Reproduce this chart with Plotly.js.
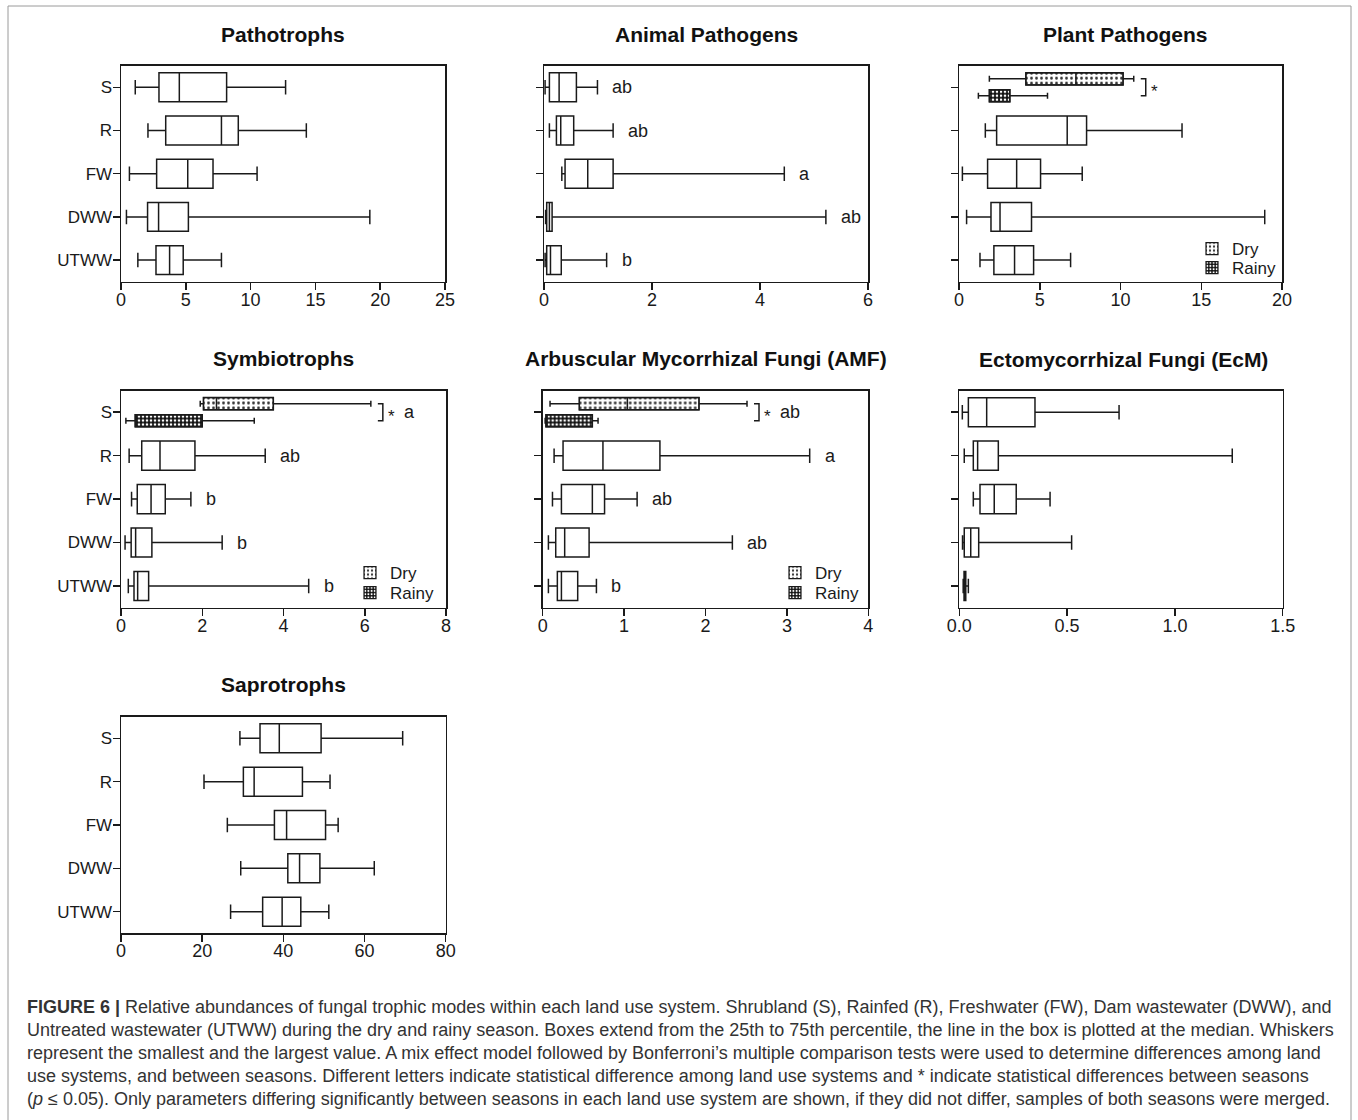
<!DOCTYPE html>
<html><head><meta charset="utf-8">
<script src="https://cdn.plot.ly/plotly-3.0.1.min.js"></script>
<style>html,body{margin:0;padding:0;background:#fff}#chart{width:1358px;height:1120px}</style>
</head><body><div id="chart"></div>
<script>
// ---------- DATA ----------
const categories = ['S', 'R', 'FW', 'DWW', 'UTWW'];
const seasons = ['Dry', 'Rainy'];

// Pathotrophs
const pathoLow  = [1.1, 2.08, 0.65, 0.42, 1.3];
const pathoQ1   = [2.93, 3.45, 2.75, 2.05, 2.7];
const pathoMed  = [4.5, 7.75, 5.15, 2.9, 3.75];
const pathoQ3   = [8.15, 9.05, 7.1, 5.2, 4.8];
const pathoHigh = [12.7, 14.3, 10.5, 19.2, 7.75];

// Animal Pathogens
const animalLow  = [0.02, 0.1, 0.33, 0.03, 0.02];
const animalQ1   = [0.1, 0.23, 0.39, 0.05, 0.05];
const animalMed  = [0.28, 0.31, 0.81, 0.1, 0.12];
const animalQ3   = [0.6, 0.55, 1.28, 0.15, 0.32];
const animalHigh = [0.99, 1.28, 4.45, 5.22, 1.16];
const animalLetters = ['ab', 'ab', 'a', 'ab', 'b'];

// Plant Pathogens (S split by season: [Dry, Rainy])
const plantLow  = [null, 1.63, 0.21, 0.47, 1.3];
const plantQ1   = [null, 2.33, 1.77, 1.98, 2.16];
const plantMed  = [null, 6.7, 3.57, 2.54, 3.44];
const plantQ3   = [null, 7.9, 5.05, 4.49, 4.62];
const plantHigh = [null, 13.81, 7.63, 18.93, 6.91];
const plantSeasonLow  = [1.88, 1.2];
const plantSeasonQ1   = [4.14, 1.88];
const plantSeasonMed  = [7.24, 2.49];
const plantSeasonQ3   = [10.16, 3.15];
const plantSeasonHigh = [10.82, 5.48];

// Symbiotrophs
const symLow  = [null, 0.2, 0.26, 0.1, 0.18];
const symQ1   = [null, 0.51, 0.4, 0.25, 0.32];
const symMed  = [null, 0.96, 0.74, 0.36, 0.41];
const symQ3   = [null, 1.82, 1.09, 0.76, 0.68];
const symHigh = [null, 3.55, 1.72, 2.49, 4.62];
const symSeasonLow  = [1.95, 0.12];
const symSeasonQ1   = [2.03, 0.35];
const symSeasonMed  = [2.35, 0.35];
const symSeasonQ3   = [3.75, 2.0];
const symSeasonHigh = [6.15, 3.28];
const symLetters = ['a', 'ab', 'b', 'b', 'b'];

// Arbuscular Mycorrhizal Fungi
const amfLow  = [null, 0.14, 0.12, 0.07, 0.07];
const amfQ1   = [null, 0.25, 0.23, 0.16, 0.18];
const amfMed  = [null, 0.74, 0.61, 0.27, 0.23];
const amfQ3   = [null, 1.44, 0.76, 0.57, 0.43];
const amfHigh = [null, 3.28, 1.16, 2.33, 0.66];
const amfSeasonLow  = [0.09, 0.03];
const amfSeasonQ1   = [0.45, 0.04];
const amfSeasonMed  = [1.04, 0.04];
const amfSeasonQ3   = [1.92, 0.61];
const amfSeasonHigh = [2.51, 0.68];
const amfLetters = ['ab', 'a', 'ab', 'ab', 'b'];

// Ectomycorrhizal Fungi
const ecmLow  = [0.014, 0.023, 0.065, 0.015, 0.018];
const ecmQ1   = [0.042, 0.065, 0.096, 0.023, 0.022];
const ecmMed  = [0.127, 0.085, 0.162, 0.053, 0.026];
const ecmQ3   = [0.351, 0.181, 0.264, 0.09, 0.03];
const ecmHigh = [0.741, 1.266, 0.421, 0.521, 0.042];

// Saprotrophs
const saproLow  = [29.3, 20.45, 26.2, 29.5, 27.0];
const saproQ1   = [34.25, 30.15, 37.8, 41.1, 34.9];
const saproMed  = [39.0, 32.8, 40.8, 44.0, 39.7];
const saproQ3   = [49.3, 44.7, 50.4, 49.0, 44.3];
const saproHigh = [69.4, 51.5, 53.5, 62.4, 51.2];

const captionLines = [
  '<b>FIGURE 6 |</b> Relative abundances of fungal trophic modes within each land use system. Shrubland (S), Rainfed (R), Freshwater (FW), Dam wastewater (DWW), and',
  'Untreated wastewater (UTWW) during the dry and rainy season. Boxes extend from the 25th to 75th percentile, the line in the box is plotted at the median. Whiskers',
  'represent the smallest and the largest value. A mix effect model followed by Bonferroni\u2019s multiple comparison tests were used to determine differences among land',
  'use systems, and between seasons. Different letters indicate statistical difference among land use systems and * indicate statistical differences between seasons',
  '(<i>p</i> \u2264 0.05). Only parameters differing significantly between seasons in each land use system are shown, if they did not differ, samples of both seasons were merged.'
];

// ---------- LAYOUT / STYLE ----------
const W = 1358, H = 1120;
const FONT = '"Liberation Sans", Arial, Helvetica, sans-serif';
const INK = '#1a1a1a';
const px2x = p => p / W;
const px2y = p => 1 - p / H;
const BOX_W = 0.67, SEASON_W = 0.28, SEASON_OFF = 0.196;

const panels = [
  {title: 'Pathotrophs', xmax: 25, dtick: 5, x: [121, 445], y: [65.7, 281.7], ty: 34, labels: true,
   stats: [pathoLow, pathoQ1, pathoMed, pathoQ3, pathoHigh]},
  {title: 'Animal Pathogens', xmax: 6, dtick: 2, x: [544, 868], y: [65.7, 281.7], ty: 34, labels: false,
   stats: [animalLow, animalQ1, animalMed, animalQ3, animalHigh], letters: animalLetters},
  {title: 'Plant Pathogens', xmax: 20, dtick: 5, x: [959, 1282], y: [65.7, 281.7], ty: 34, tx: 1125, labels: false,
   stats: [plantLow, plantQ1, plantMed, plantQ3, plantHigh],
   season: [plantSeasonLow, plantSeasonQ1, plantSeasonMed, plantSeasonQ3, plantSeasonHigh],
   legendIds: ['legend', 'legend2'], legendX: 1192, legendTops: [231, 250]},
  {title: 'Symbiotrophs', xmax: 8, dtick: 2, x: [121, 446], y: [390.5, 607.7], ty: 358, labels: true,
   stats: [symLow, symQ1, symMed, symQ3, symHigh], letters: symLetters,
   season: [symSeasonLow, symSeasonQ1, symSeasonMed, symSeasonQ3, symSeasonHigh],
   legendIds: ['legend3', 'legend4'], legendX: 350, legendTops: [555, 575]},
  {title: 'Arbuscular Mycorrhizal Fungi (AMF)', xmax: 4, dtick: 1, x: [542.7, 868.3], y: [390.5, 607.7], ty: 358, labels: false,
   stats: [amfLow, amfQ1, amfMed, amfQ3, amfHigh], letters: amfLetters,
   season: [amfSeasonLow, amfSeasonQ1, amfSeasonMed, amfSeasonQ3, amfSeasonHigh],
   legendIds: ['legend5', 'legend6'], legendX: 775, legendTops: [555, 575]},
  {title: 'Ectomycorrhizal Fungi (EcM)', xmax: 1.5, dtick: 0.5, fmt: '.1f', x: [959.3, 1282.7], y: [390.5, 607.7], ty: 360, tx: 1123, labels: false,
   stats: [ecmLow, ecmQ1, ecmMed, ecmQ3, ecmHigh]},
  {title: 'Saprotrophs', xmax: 80, dtick: 20, x: [121, 445.7], y: [716.7, 933.3], ty: 684, labels: true,
   stats: [saproLow, saproQ1, saproMed, saproQ3, saproHigh]}
];

const seasonPatterns = {
  Dry:   {shape: '.', fgcolor: '#333', bgcolor: 'white', size: 5, solidity: 0.25},
  Rainy: {shape: '.', fgcolor: 'white', bgcolor: '#111', size: 4, solidity: 0.35}
};

const traces = [], annotations = [], shapes = [];
const layout = {
  width: W, height: H, margin: {l: 0, r: 0, t: 0, b: 0},
  paper_bgcolor: 'white', plot_bgcolor: 'white',
  showlegend: true, barmode: 'overlay', boxmode: 'overlay',
  font: {family: FONT, color: INK}
};

function boxTrace(xa, ya, pos, s, width) {
  return {
    type: 'box', orientation: 'h', xaxis: xa, yaxis: ya, y: pos,
    lowerfence: s[0], q1: s[1], median: s[2], q3: s[3], upperfence: s[4],
    width: width, whiskerwidth: 0.5, boxpoints: false,
    fillcolor: 'rgba(0,0,0,0)', line: {color: INK, width: 1.5},
    showlegend: false, hoverinfo: 'skip'
  };
}

panels.forEach((p, k) => {
  const n = k + 1, sfx = n === 1 ? '' : String(n);
  const xa = 'x' + sfx, ya = 'y' + sfx;
  const pxPerUnit = (p.x[1] - p.x[0]) / p.xmax;
  const axisCommon = {
    ticks: 'outside', ticklen: 7, tickwidth: 1.5, tickcolor: INK,
    showline: true, linewidth: 1.5, linecolor: INK, mirror: true,
    showgrid: false, zeroline: false, fixedrange: true
  };
  layout['xaxis' + sfx] = Object.assign({}, axisCommon, {
    domain: [px2x(p.x[0]), px2x(p.x[1])], anchor: ya,
    range: [0, p.xmax], tickmode: 'linear', tick0: 0, dtick: p.dtick, tickformat: p.fmt || '',
    tickfont: {size: 18, family: FONT, color: INK}, ticklabelstandoff: -6
  });
  layout['yaxis' + sfx] = Object.assign({}, axisCommon, {
    domain: [px2y(p.y[1]), px2y(p.y[0])], anchor: xa,
    range: [categories.length - 0.5, -0.5], tickmode: 'array',
    tickvals: categories.map((c, i) => i), ticktext: categories,
    showticklabels: p.labels, tickfont: {size: 17, family: FONT, color: INK}, ticklabelstandoff: -3
  });

  // seasonal boxes (pattern fill via bars underneath box outline)
  if (p.season) {
    const si = categories.indexOf('S');
    seasons.forEach((sname, j) => {
      const pos = si + (j === 0 ? -SEASON_OFF : SEASON_OFF);
      const s = p.season.map(a => [a[j]]);
      traces.push({
        type: 'bar', orientation: 'h', xaxis: xa, yaxis: ya,
        y: [pos], base: s[1], x: [s[3][0] - s[1][0]], width: SEASON_W,
        name: sname, legend: p.legendIds[j], showlegend: true, hoverinfo: 'skip',
        marker: {color: 'white', line: {color: INK, width: 1.2}, pattern: seasonPatterns[sname]}
      });
      traces.push(boxTrace(xa, ya, [pos], s, SEASON_W));
      layout[p.legendIds[j]] = {
        x: px2x(p.legendX), y: px2y(p.legendTops[j]), xanchor: 'left', yanchor: 'top',
        bgcolor: 'rgba(0,0,0,0)', borderwidth: 0, itemwidth: 30,
        font: {size: 17, family: FONT, color: INK}
      };
    });
    // bracket + asterisk
    const hi = Math.max(p.season[4][0], p.season[4][1]);
    const bx = hi + 12 / pxPerUnit, arm = 5 / pxPerUnit;
    const y0 = si - SEASON_OFF, y1 = si + SEASON_OFF;
    shapes.push({type: 'path', xref: xa, yref: ya,
      path: `M ${bx - arm},${y0} L ${bx},${y0} L ${bx},${y1} L ${bx - arm},${y1}`,
      line: {color: INK, width: 1.5}});
    annotations.push({xref: xa, yref: ya, x: bx, y: si, xanchor: 'left', yanchor: 'middle',
      xshift: 3, yshift: -4, text: '*', showarrow: false, font: {size: 17, family: FONT, color: INK}});
    if (p.letters) {
      annotations.push({xref: xa, yref: ya, x: bx, y: si, xanchor: 'left', yanchor: 'middle',
        xshift: 19, text: p.letters[si], showarrow: false, font: {size: 18, family: FONT, color: INK}});
    }
  }

  // main boxes
  const idx = categories.map((c, i) => i).filter(i => p.stats[0][i] !== null);
  traces.push(boxTrace(xa, ya, idx, p.stats.map(a => idx.map(i => a[i])), BOX_W));

  // letters
  if (p.letters) {
    idx.forEach(i => {
      annotations.push({xref: xa, yref: ya, x: p.stats[4][i], y: i, xanchor: 'left', yanchor: 'middle',
        xshift: 13, text: p.letters[i], showarrow: false, font: {size: 18, family: FONT, color: INK}});
    });
  }

  // title
  annotations.push({xref: 'paper', yref: 'paper', x: px2x(p.tx || (p.x[0] + p.x[1]) / 2), y: px2y(p.ty),
    xanchor: 'center', yanchor: 'middle', showarrow: false,
    text: '<b>' + p.title + '</b>', font: {size: 21, family: FONT, color: '#111'}});
});

// caption
captionLines.forEach((t, i) => {
  annotations.push({xref: 'paper', yref: 'paper', x: px2x(25), y: px2y(1007 + i * 23),
    xanchor: 'left', yanchor: 'middle', showarrow: false, align: 'left',
    text: t, font: {size: 18, family: FONT, color: '#333'}});
});

// figure frame
shapes.push({type: 'rect', xref: 'paper', yref: 'paper', x0: px2x(8), x1: px2x(1351),
  y0: px2y(1135), y1: px2y(6), line: {color: '#9a9a9a', width: 1}, layer: 'below'});

layout.annotations = annotations;
layout.shapes = shapes;

Plotly.newPlot('chart', traces, layout, {staticPlot: true, displayModeBar: false});
</script>
</body></html>
